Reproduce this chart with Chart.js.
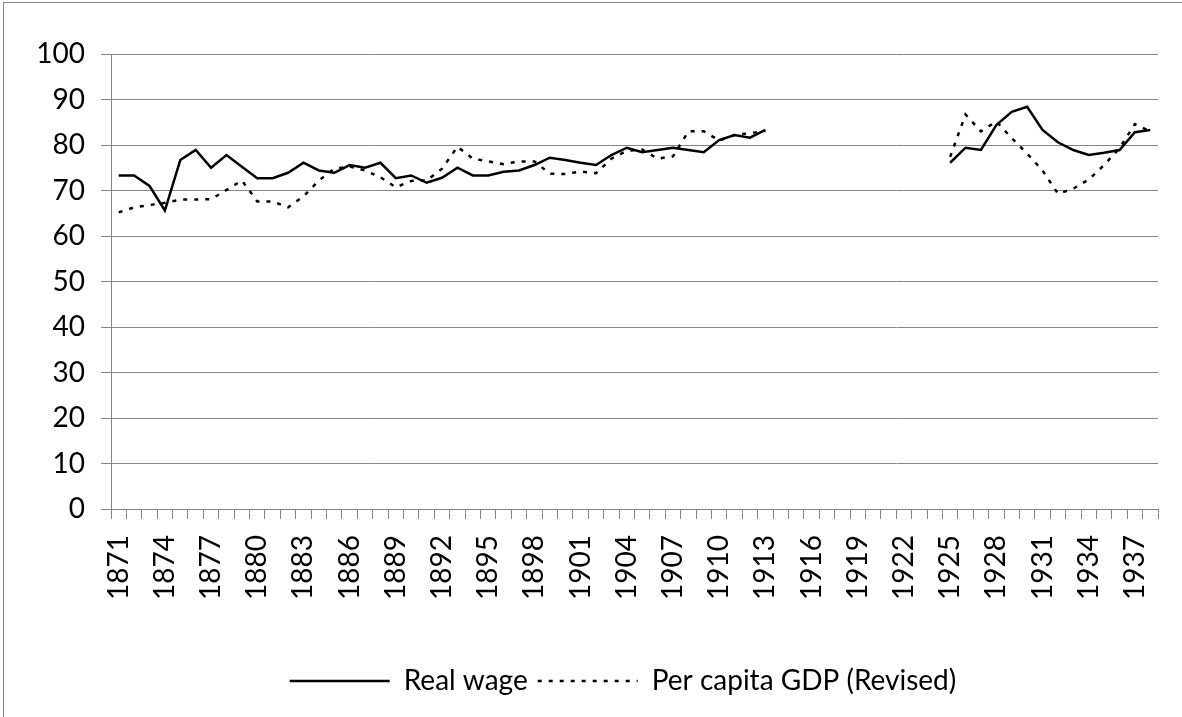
<!DOCTYPE html>
<html>
<head>
<meta charset="utf-8">
<script src="https://cdn.jsdelivr.net/npm/chart.js@4.4.1/dist/chart.umd.min.js"></script>
<style>
  html, body { margin: 0; padding: 0; background: #fff; }
  #wrap { width: 1182px; height: 717px; }
</style>
</head>
<body>
<div id="wrap"><canvas id="chart" width="1182" height="717"></canvas></div>
<script>
const years = [
    '1871', '1872', '1873', '1874', '1875', '1876', '1877', '1878', '1879', '1880',
    '1881', '1882', '1883', '1884', '1885', '1886', '1887', '1888', '1889', '1890',
    '1891', '1892', '1893', '1894', '1895', '1896', '1897', '1898', '1899', '1900',
    '1901', '1902', '1903', '1904', '1905', '1906', '1907', '1908', '1909', '1910',
    '1911', '1912', '1913', '1914', '1915', '1916', '1917', '1918', '1919', '1920',
    '1921', '1922', '1923', '1924', '1925', '1926', '1927', '1928', '1929', '1930',
    '1931', '1932', '1933', '1934', '1935', '1936', '1937', '1938'
];

const realWage = [
    73.3, 73.3, 71.0, 65.6, 76.7, 78.9, 75.0, 77.8, 75.2, 72.7,
    72.7, 73.9, 76.1, 74.4, 73.9, 75.6, 75.0, 76.1, 72.7, 73.3,
    71.7, 72.8, 75.0, 73.3, 73.3, 74.1, 74.4, 75.6, 77.2, 76.7,
    76.1, 75.6, 77.8, 79.4, 78.4, 78.9, 79.4, 78.9, 78.4, 81.1,
    82.2, 81.6, 83.3, null, null, null, null, null, null, null,
    null, null, null, null, 76.1, 79.4, 78.9, 84.4, 87.3, 88.4,
    83.3, 80.6, 78.9, 77.8, 78.3, 78.9, 82.8, 83.3
];

const gdpRevised = [
    65.2, 66.3, 66.8, 67.3, 68.0, 68.0, 68.1, 70.1, 72.2, 67.6,
    67.6, 66.3, 68.7, 72.2, 74.8, 75.3, 74.4, 72.9, 70.7, 72.1,
    72.2, 74.8, 79.6, 77.0, 76.4, 75.8, 76.4, 76.4, 73.7, 73.6,
    74.2, 73.8, 77.0, 78.7, 79.0, 77.0, 77.5, 83.0, 83.0, 81.0,
    82.2, 82.6, 83.1, null, null, null, null, null, null, null,
    null, null, null, null, 77.4, 86.7, 83.0, 85.2, 81.5, 78.1,
    74.4, 69.3, 70.4, 72.4, 75.6, 79.3, 84.6, 83.0
];

const yTicks = { min: 0, max: 100, step: 10 };

const axisGray = '#868686';
const labelFont = { family: 'Lato', size: 28 };

Chart.defaults.color = '#000';
Chart.defaults.font.family = 'Lato';

// outer frame of the chart object
const framePlugin = {
    id: 'frame',
    beforeDraw(chart) {
        const ctx = chart.ctx;
        ctx.save();
        ctx.strokeStyle = '#898989';
        ctx.lineWidth = 1;
        ctx.strokeRect(3.5, 2.5, 1400, 900);
        ctx.restore();
    }
};

// legend sits a bit right of centre in the original
const legendShift = {
    id: 'legendShift',
    afterLayout(chart) {
        if (chart.legend) {
            chart.legend.left += 44;
            chart.legend.right += 44;
        }
    }
};

const chart = new Chart(document.getElementById('chart').getContext('2d'), {
    type: 'line',
    data: {
        labels: years,
        datasets: [
            {
                label: 'Real wage',
                data: realWage,
                borderColor: '#000',
                backgroundColor: '#000',
                borderWidth: 2.5,
                pointRadius: 0,
                tension: 0,
                spanGaps: false,
                fill: false
            },
            {
                label: 'Per capita GDP (Revised)',
                data: gdpRevised,
                borderColor: '#000',
                backgroundColor: '#000',
                borderWidth: 2.5,
                borderDash: [4, 7],
                pointRadius: 0,
                tension: 0,
                spanGaps: false,
                fill: false
            }
        ]
    },
    options: {
        responsive: false,
        animation: false,
        layout: { padding: { top: 54, right: 24, bottom: 12, left: 0 } },
        plugins: {
            tooltip: { enabled: false },
            legend: {
                position: 'bottom',
                labels: {
                    usePointStyle: true,
                    pointStyle: 'line',
                    pointStyleWidth: 100,
                    padding: 10,
                    color: '#000',
                    font: labelFont,
                    generateLabels(chart) {
                        const items = Chart.defaults.plugins.legend.labels.generateLabels(chart);
                        items.forEach((it, i) => {
                            it.lineDash = chart.data.datasets[i].borderDash || [];
                            it.lineWidth = 2.5;
                        });
                        return items;
                    }
                }
            }
        },
        scales: {
            x: {
                offset: true,
                grid: {
                    offset: true,
                    drawOnChartArea: false,
                    drawTicks: true,
                    tickLength: 10,
                    color: axisGray
                },
                border: { color: axisGray },
                ticks: {
                    autoSkip: false,
                    minRotation: 90,
                    maxRotation: 90,
                    padding: 16,
                    color: '#000',
                    font: labelFont,
                    callback: function (v, i) {
                        return i % 3 === 0 ? this.getLabelForValue(v) : '';
                    }
                },
                afterFit: s => {
                    s.height = 148;
                    s.paddingLeft = 0;
                    s.paddingRight = 0;
                }
            },
            y: {
                min: yTicks.min,
                max: yTicks.max,
                grid: { color: axisGray, tickLength: 10 },
                border: { color: axisGray },
                ticks: {
                    stepSize: yTicks.step,
                    padding: 16,
                    color: '#000',
                    font: labelFont
                },
                afterFit: s => { s.width = 111; }
            }
        }
    },
    plugins: [framePlugin, legendShift]
});
</script>
</body>
</html>
